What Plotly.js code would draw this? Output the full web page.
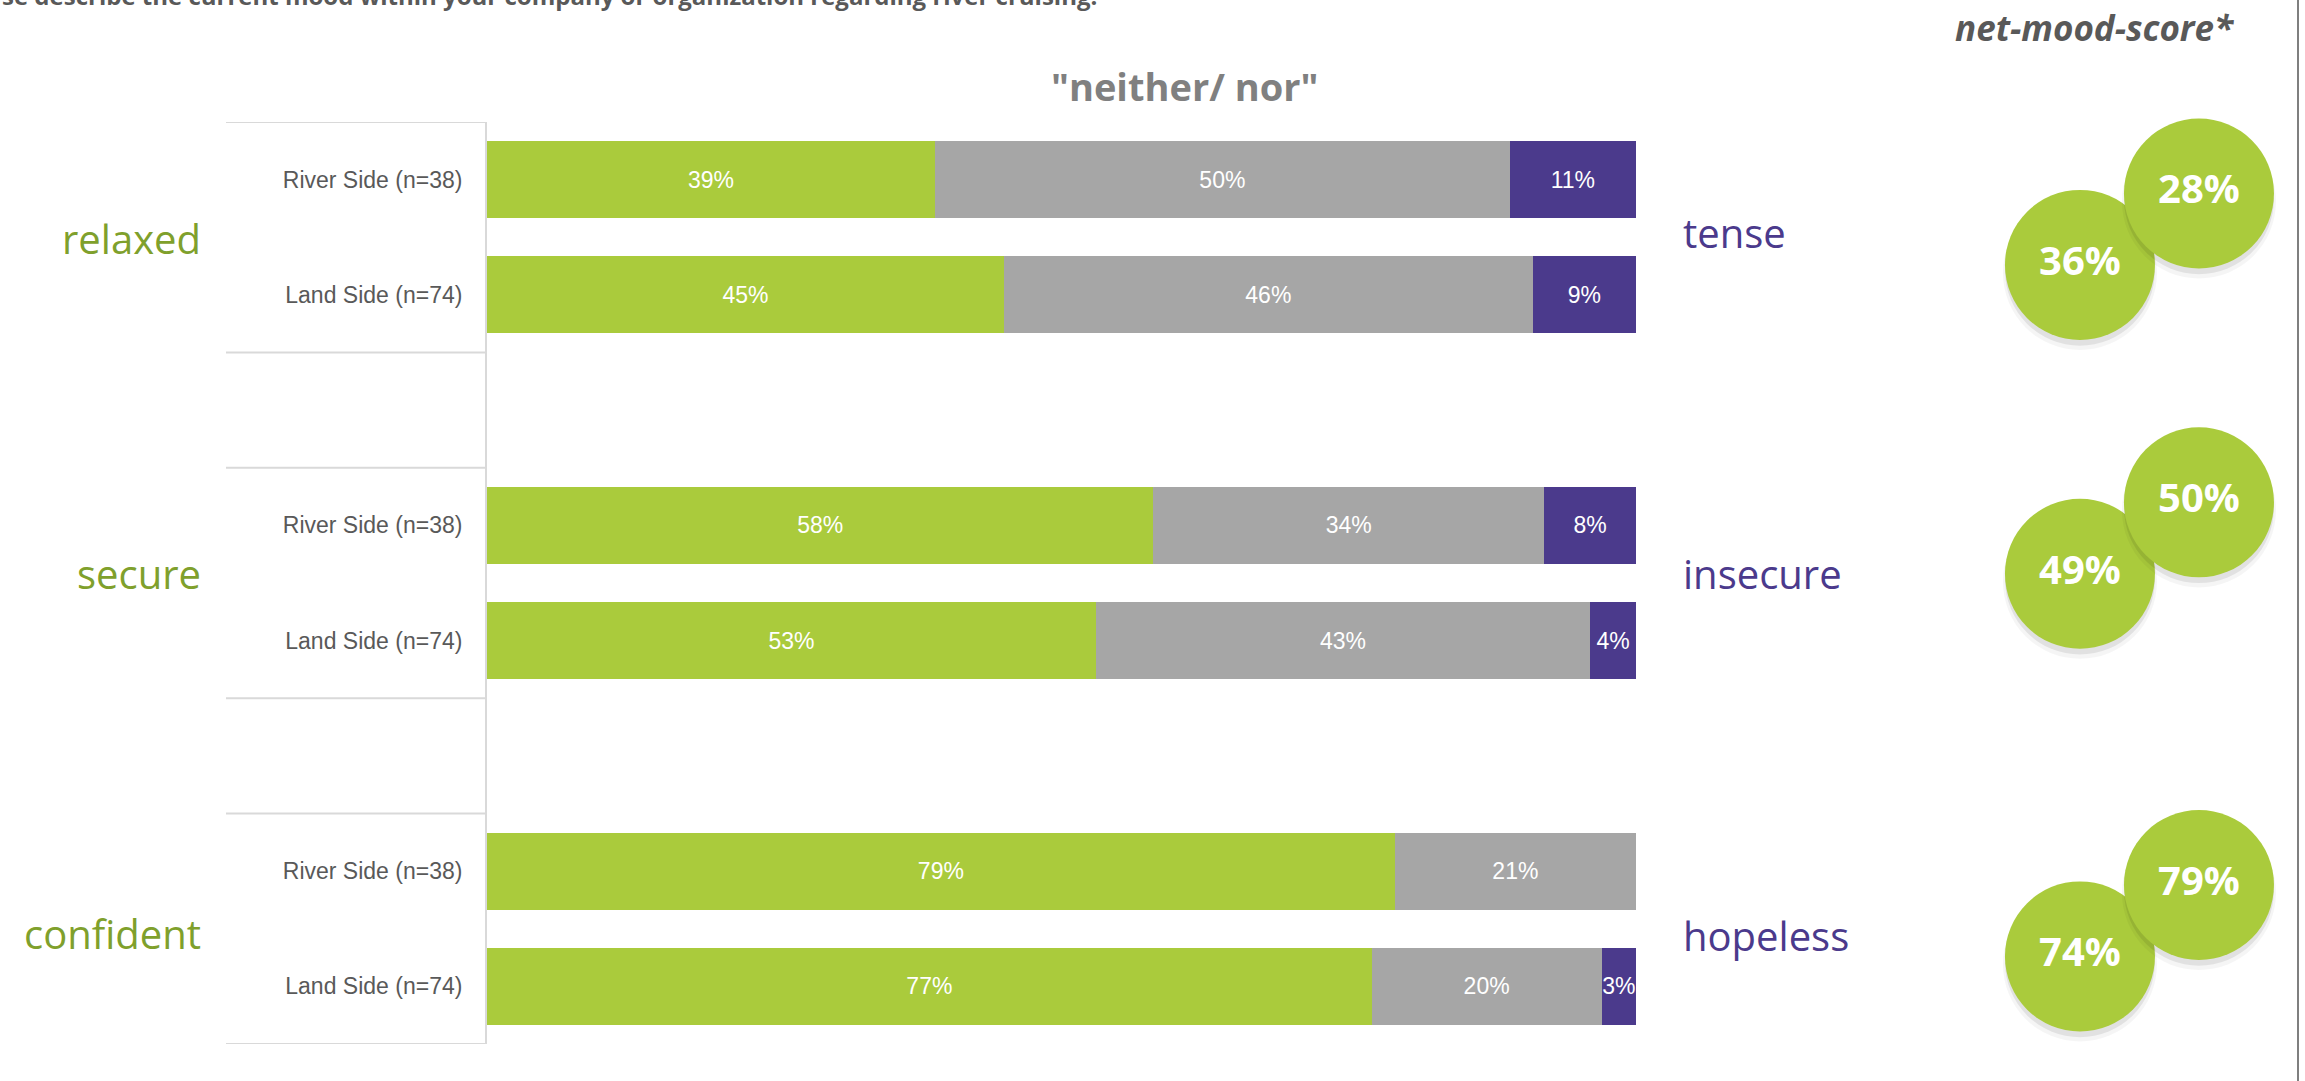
<!DOCTYPE html>
<html>
<head>
<meta charset="utf-8">
<script src="https://cdn.plot.ly/plotly-3.0.1.min.js"></script>
<style>html,body{margin:0;padding:0;background:#fff;}#chart{width:2305px;height:1081px;}</style>
</head>
<body>
<div id="chart"></div>
<script>
// ---------- DATA ----------
const moodPositive = ['relaxed', 'secure', 'confident'];
const moodNegative = ['tense', 'insecure', 'hopeless'];
const rowLabels = ['River Side (n=38)', 'Land Side (n=74)'];
const circleCats = ['Land Side', 'River Side'];

const positiveRiver = [39, 58, 79];
const positiveLand  = [45, 53, 77];
const neutralRiver  = [50, 34, 21];
const neutralLand   = [46, 43, 20];
const negativeRiver = [11, 8, null];
const negativeLand  = [9, 4, 3];

const netRiver = [28, 50, 79];
const netLand  = [36, 49, 74];

const questionText = 'se describe the current mood within your company or organization regarding river cruising.';
const neutralTitle = '"neither/ nor"';
const netTitle = 'net-mood-score*';

// ---------- LAYOUT HELPERS ----------
const W = 2305, H = 1081;
const M = {l: 487, r: 0, t: 122, b: 37};
const PW = W - M.l - M.r, PH = H - M.t - M.b;
const px2x = p => (p - M.l) / PW;
const px2y = p => (H - M.b - p) / PH;

const GREEN = '#AACB3C', GREY = '#A6A6A6', PURPLE = '#4B3A8C';
const GREEN_TXT = '#7FA02C', GREY_TXT = '#595959';

const groupStep = 3;
const rowY = [];
moodPositive.forEach((_, g) => { rowY.push(g * groupStep, g * groupStep + 1); });
const interleave = (a, b) => a.flatMap((v, i) => [v, b[i]]);
const rowTickText = moodPositive.flatMap(() => rowLabels);

function barTrace(name, river, land, color) {
  return {
    type: 'bar', orientation: 'h', name: name,
    x: interleave(river, land), y: rowY,
    width: 0.668,
    marker: {color: color, line: {width: 0}},
    texttemplate: '%{x}%', textposition: 'inside', insidetextanchor: 'middle',
    constraintext: 'none', textangle: 0,
    textfont: {family: 'Liberation Sans, Arial, sans-serif', size: 23, color: '#ffffff'},
    hoverinfo: 'skip', showlegend: false, xaxis: 'x', yaxis: 'y'
  };
}

const traces = [
  barTrace('positive', positiveRiver, positiveLand, GREEN),
  barTrace('neither/nor', neutralRiver, neutralLand, GREY),
  barTrace('negative', negativeRiver, negativeLand, PURPLE)
];

// circles (net mood score)
const circleNudge = [0, -0.32, 0];
const riverOff = 0.12, landOff = 0.74;
const riverY = moodPositive.map((_, g) => g * groupStep + riverOff + circleNudge[g]);
const landY  = moodPositive.map((_, g) => g * groupStep + landOff + circleNudge[g]);

function shadow(cat, ys, dy, size, col) {
  return {
    type: 'scatter', mode: 'markers', x: ys.map(() => cat), y: ys.map(v => v + dy),
    marker: {size: size, color: col, line: {width: 0}},
    cliponaxis: false, hoverinfo: 'skip', showlegend: false, xaxis: 'x2', yaxis: 'y'
  };
}
function circles(cat, ys, vals) {
  return {
    type: 'scatter', mode: 'markers+text', x: ys.map(() => cat), y: ys,
    text: vals.map(v => v + '%'), textposition: 'middle center',
    textfont: {family: 'Open Sans, sans-serif', size: 40, color: '#ffffff', weight: 700},
    marker: {size: 150, color: GREEN, line: {width: 0}},
    cliponaxis: false, hoverinfo: 'skip', showlegend: false, xaxis: 'x2', yaxis: 'y'
  };
}
traces.push(
  shadow(circleCats[0], landY, 0.07, 154, 'rgba(0,0,0,0.04)'),
  shadow(circleCats[0], landY, 0.05, 150, 'rgba(0,0,0,0.08)'),
  circles(circleCats[0], landY, netLand),
  shadow(circleCats[1], riverY, 0.07, 154, 'rgba(0,0,0,0.04)'),
  shadow(circleCats[1], riverY, 0.05, 150, 'rgba(0,0,0,0.08)'),
  circles(circleCats[1], riverY, netRiver)
);

// ---------- SHAPES & ANNOTATIONS ----------
const shapes = [];
moodPositive.forEach((_, g) => {
  [g * groupStep - 0.5, g * groupStep + 1.5].forEach(yv => {
    shapes.push({type: 'line', xref: 'paper', yref: 'y', x0: px2x(226), x1: 0, y0: yv, y1: yv,
      line: {color: '#D9D9D9', width: 2}});
  });
});
shapes.push({type: 'line', xref: 'paper', yref: 'paper', x0: px2x(2298), x1: px2x(2298),
  y0: px2y(H), y1: px2y(0), line: {color: '#7F7F7F', width: 2}});

const leftNudge = [0.01, -0.08, 0.045];
const rightNudge = [-0.04, -0.085, 0.06];
const annotations = [];
moodPositive.forEach((t, g) => {
  annotations.push({xref: 'paper', yref: 'y', x: px2x(203), y: g * groupStep + 0.5 + leftNudge[g],
    text: t, showarrow: false, xanchor: 'right', yanchor: 'middle',
    font: {family: 'Open Sans, sans-serif', size: 40, color: GREEN_TXT}});
});
moodNegative.forEach((t, g) => {
  annotations.push({xref: 'paper', yref: 'y', x: px2x(1681), y: g * groupStep + 0.5 + rightNudge[g],
    text: t, showarrow: false, xanchor: 'left', yanchor: 'middle',
    font: {family: 'Open Sans, sans-serif', size: 40, color: PURPLE}});
});
annotations.push(
  {xref: 'paper', yref: 'paper', x: px2x(1184), y: px2y(86), text: neutralTitle, showarrow: false,
   xanchor: 'center', yanchor: 'middle', font: {family: 'Open Sans, sans-serif', size: 38, color: '#808080', weight: 700}},
  {xref: 'paper', yref: 'paper', x: px2x(2094), y: px2y(27), text: netTitle, showarrow: false,
   xanchor: 'center', yanchor: 'middle', font: {family: 'Open Sans, sans-serif', size: 35, color: GREY_TXT, weight: 700, style: 'italic'}},
  {xref: 'paper', yref: 'paper', x: px2x(0), y: px2y(-5), text: questionText, showarrow: false,
   xanchor: 'left', yanchor: 'middle', font: {family: 'Open Sans, sans-serif', size: 24, color: GREY_TXT, weight: 700}}
);

const layout = {
  width: W, height: H, margin: M,
  paper_bgcolor: '#ffffff', plot_bgcolor: 'rgba(0,0,0,0)',
  barmode: 'stack', showlegend: false,
  xaxis: {domain: [0, px2x(1636)], range: [0, 100], visible: false, fixedrange: true},
  xaxis2: {domain: [px2x(1950), px2x(2300)], anchor: 'y', type: 'category',
           categoryorder: 'array', categoryarray: circleCats,
           range: [-1.092, 1.849], visible: false},
  yaxis: {range: [7.5, -0.5], anchor: 'x', tickmode: 'array', tickvals: rowY, ticktext: rowTickText,
          ticks: 'outside', ticklen: 18, tickcolor: 'rgba(0,0,0,0)',
          tickfont: {family: 'Liberation Sans, Arial, sans-serif', size: 23, color: GREY_TXT},
          showgrid: false, zeroline: false, showline: true, linecolor: '#D9D9D9', linewidth: 2},
  shapes: shapes, annotations: annotations
};

Plotly.newPlot('chart', traces, layout, {displayModeBar: false, staticPlot: true});
</script>
</body>
</html>
